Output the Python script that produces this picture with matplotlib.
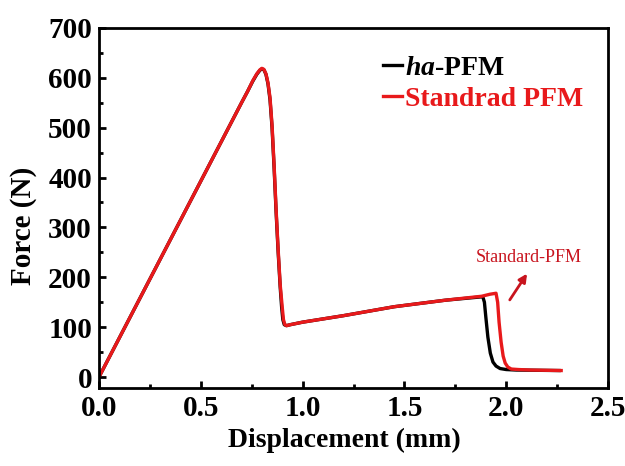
import matplotlib
matplotlib.use("Agg")
import matplotlib.pyplot as plt

plt.rcParams["font.family"] = ["Liberation Serif", "DejaVu Serif"]
plt.rcParams["font.weight"] = "bold"
plt.rcParams["mathtext.fontset"] = "custom"
plt.rcParams["mathtext.it"] = "Liberation Serif:italic:bold"
plt.rcParams["mathtext.rm"] = "Liberation Serif:bold"

# ha-PFM
ha_x = [0.0, 0.70, 0.73, 0.755, 0.775, 0.79, 0.80, 0.81, 0.82, 0.83, 0.84, 0.85,
        0.86, 0.87, 0.88, 0.89, 0.897, 0.903, 0.91, 0.92, 0.94, 1.0, 1.2, 1.45,
        1.7, 1.885, 1.893, 1.90, 1.91, 1.922, 1.935, 1.95, 1.97, 2.0, 2.05, 2.26]
ha_y = [0, 550, 573, 593, 607, 615, 618, 616, 607, 588, 556, 500,
        420, 330, 250, 180, 140, 115, 105, 103, 105, 110, 123, 141,
        154, 161, 150, 120, 80, 48, 30, 22, 17, 15, 14, 13]

# Standard PFM
std_x = [0.0, 0.70, 0.73, 0.755, 0.775, 0.79, 0.80, 0.81, 0.82, 0.83, 0.84, 0.85,
         0.86, 0.87, 0.88, 0.89, 0.90, 0.906, 0.913, 0.922, 0.94, 1.0, 1.2, 1.45,
         1.7, 1.88, 1.92, 1.95, 1.958, 1.965, 1.975, 1.985, 1.995, 2.008, 2.025,
         2.06, 2.12, 2.27]
std_y = [0, 550, 573, 594, 608, 616, 619, 617, 608, 590, 560, 505,
         425, 335, 255, 185, 140, 115, 105, 103, 105, 110, 123, 141,
         154, 162, 166, 168, 150, 110, 70, 42, 28, 20, 16,
         15, 14, 13]

xticks = [0.0, 0.5, 1.0, 1.5, 2.0, 2.5]
yticks = [0, 100, 200, 300, 400, 500, 600, 700]

fig = plt.figure(figsize=(6.25, 4.66), dpi=100)
ax = fig.add_axes([0.1584, 0.1674, 0.8144, 0.7726])

ax.plot(ha_x, ha_y, color="black", lw=2.4, label=r"$\it{ha}$-PFM")
ax.plot(std_x, std_y, color="#e8191b", lw=2.4, label="Standrad PFM")

ax.set_xlim(0, 2.5)
ax.set_ylim(-22, 700)
ax.set_xticks(xticks)
ax.set_xticklabels([f"{v:.1f}" for v in xticks])
ax.set_yticks(yticks)
ax.set_xticks([0.25, 0.75, 1.25, 1.75, 2.25], minor=True)
ax.set_yticks([50, 150, 250, 350, 450, 550, 650], minor=True)
ax.tick_params(axis="both", which="major", direction="in", length=5, width=2,
               labelsize=21, pad=5)
ax.tick_params(axis="both", which="minor", direction="in", length=3, width=2)
for s in ax.spines.values():
    s.set_linewidth(2)

ax.set_xlabel("Displacement (mm)", fontsize=20, fontweight="bold")
ax.set_ylabel("Force (N)", fontsize=21, fontweight="bold")
ax.xaxis.set_label_coords(0.483, -0.11)
ax.yaxis.set_label_coords(-0.122, 0.45)

leg = ax.legend(loc="upper right", bbox_to_anchor=(0.984, 0.97), frameon=False,
                fontsize=20, handlelength=0.7, handletextpad=0.1,
                labelspacing=0.2, borderaxespad=0.2)
for t, c in zip(leg.get_texts(), ["black", "#e8191b"]):
    t.set_color(c)

ax.text(2.11, 239, "Standard-PFM", color="#c8141e", fontsize=13,
        fontweight="normal", ha="center", va="center")
ax.annotate("", xy=(2.11, 212), xytext=(2.01, 150),
            arrowprops=dict(arrowstyle="-|>", color="#c8141e", lw=2,
                            mutation_scale=12))

fig.savefig("out.png", dpi=100)
